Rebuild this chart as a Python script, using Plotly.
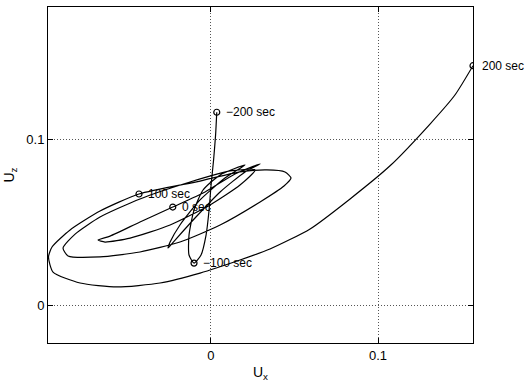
import plotly.graph_objects as go

# Trajectory of the (U_x, U_z) components, ordered in time from -200 sec to 200 sec
ux = [0.0036, 0.0029, 0.0017, 0.0002, -0.0010, -0.0028, -0.0058, -0.0100,
      -0.0130, -0.0130, -0.0100, -0.0046, 0.0056, 0.0205, 0.0085, -0.0064,
      -0.0184, -0.0243, -0.0255, -0.0213, -0.0094, 0.0056, 0.0205, 0.0295,
      0.0145, -0.0034, -0.0227, -0.0423, -0.0602, -0.0674, -0.0632, -0.0482,
      -0.0243, -0.0004, 0.0175, 0.0265,
      0.0115, -0.0124, -0.0423, -0.0662, -0.0811, -0.0883, -0.0853, -0.0662,
      -0.0423, -0.0184, 0.0056, 0.0295, 0.0438, 0.0480, 0.0444, 0.0336,
      0.0175, -0.0064, -0.0429, -0.0662, -0.0841, -0.0949, -0.0970, -0.0943,
      -0.0781, -0.0560, -0.0303, -0.0064, 0.0175, 0.0354, 0.0594, 0.0833,
      0.1072, 0.1311, 0.1460, 0.1568]
uz = [0.1163, 0.1026, 0.0875, 0.0724, 0.0573, 0.0422, 0.0302, 0.0253,
      0.0302, 0.0422, 0.0573, 0.0694, 0.0785, 0.0845, 0.0766, 0.0634,
      0.0483, 0.0380, 0.0344, 0.0392, 0.0525, 0.0682, 0.0803, 0.0851,
      0.0791, 0.0682, 0.0591, 0.0501, 0.0416, 0.0392, 0.0380, 0.0404,
      0.0483, 0.0604, 0.0724, 0.0815,
      0.0809, 0.0742, 0.0640, 0.0531, 0.0428, 0.0344, 0.0296, 0.0290,
      0.0320, 0.0380, 0.0483, 0.0622, 0.0718, 0.0766, 0.0803, 0.0815,
      0.0803, 0.0748, 0.0670, 0.0567, 0.0453, 0.0350, 0.0290, 0.0199,
      0.0133, 0.0109, 0.0133, 0.0193, 0.0272, 0.0338, 0.0459, 0.0640,
      0.0840, 0.1092, 0.1267, 0.1444]

# Time stamps marked along the trajectory
mark_labels = ["\u2212200 sec", "\u2212100 sec", "0 sec", "100 sec", "200 sec"]
mark_x = [0.0036, -0.0100, -0.0227, -0.0429, 0.1568]
mark_z = [0.1163, 0.0253, 0.0591, 0.0670, 0.1444]

x_ticks = [0, 0.1]
z_ticks = [0, 0.1]

font = "Liberation Sans, Arial, Helvetica, sans-serif"

fig = go.Figure()
fig.add_trace(go.Scatter(
    x=ux, y=uz, mode="lines",
    line=dict(color="black", width=1.2, shape="spline", smoothing=0.6),
    hoverinfo="skip", showlegend=False,
))
fig.add_trace(go.Scatter(
    x=mark_x, y=mark_z, mode="markers",
    marker=dict(symbol="circle-open", size=6, color="black", line=dict(width=1.2)),
    showlegend=False,
))
for lbl, mx, mz in zip(mark_labels, mark_x, mark_z):
    fig.add_annotation(
        x=mx, y=mz, text=lbl, showarrow=False,
        xanchor="left", yanchor="middle", xshift=7,
        font=dict(family=font, size=12, color="black"),
    )

axis_common = dict(
    showline=True, linecolor="black", linewidth=1, mirror="ticks",
    ticks="inside", ticklen=5, tickcolor="black",
    showgrid=True, gridcolor="#555555", gridwidth=1, griddash="1px,2px",
    zeroline=False,
    tickfont=dict(family=font, size=13, color="black"),
)

fig.update_xaxes(
    range=[-0.0973, 0.1568], tickvals=x_ticks, ticktext=["0", "0.1"],
    title=dict(text="U<sub>x</sub>", font=dict(family=font, size=14, color="black"), standoff=5),
    **axis_common,
)
fig.update_yaxes(
    range=[-0.0229, 0.1798], tickvals=z_ticks, ticktext=["0", "0.1"],
    title=dict(text="U<sub>z</sub>", font=dict(family=font, size=14, color="black"), standoff=8),
    **axis_common,
)

fig.update_layout(
    width=529, height=385,
    margin=dict(l=48, r=56, t=7, b=42),
    paper_bgcolor="white", plot_bgcolor="white",
)

fig.write_html("out.html")
